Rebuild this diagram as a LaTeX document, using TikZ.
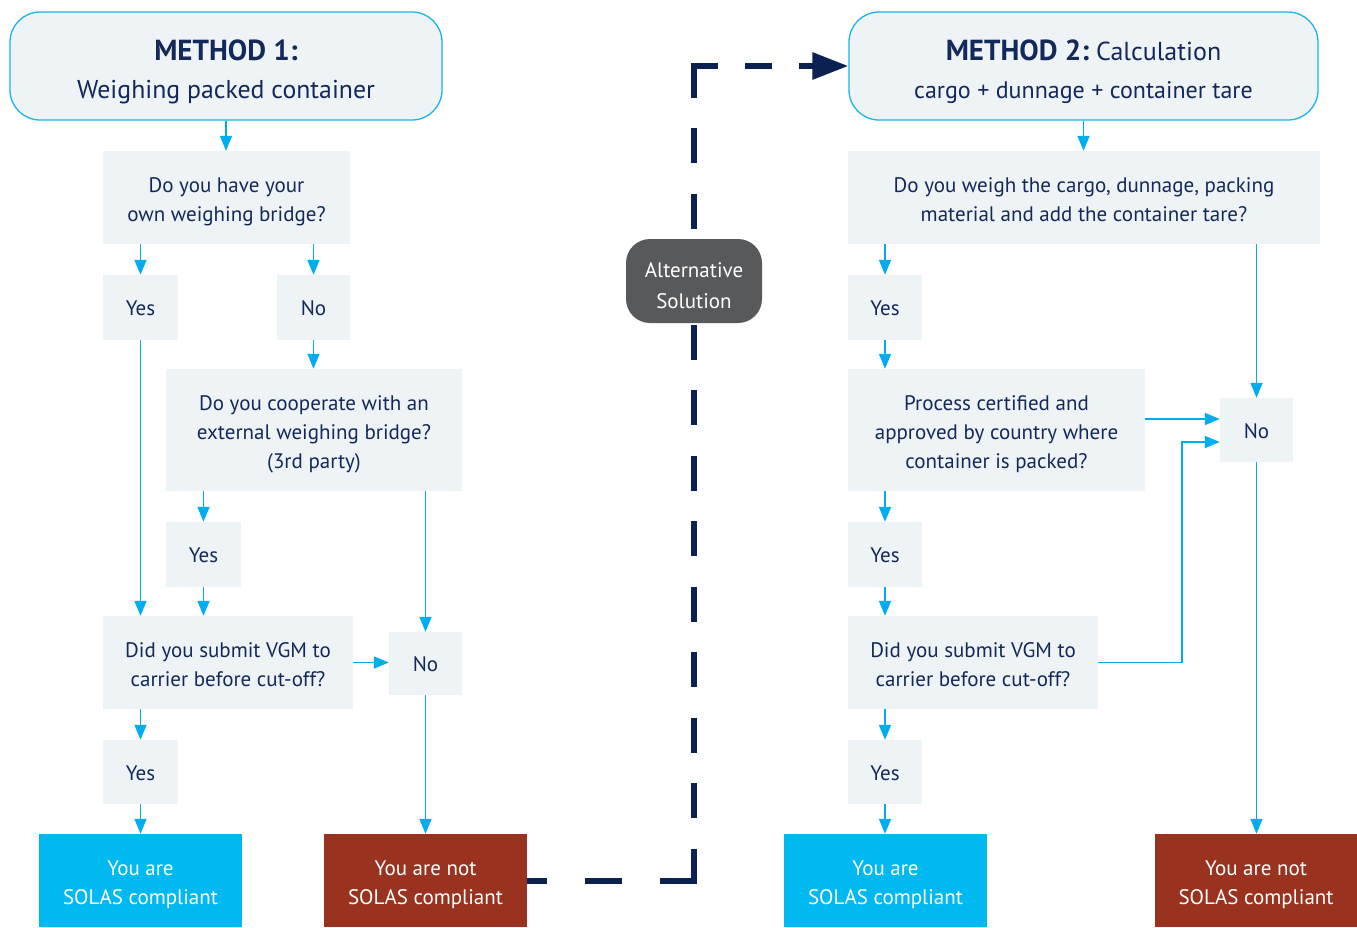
\documentclass[tikz,border=0pt]{standalone}
\usepackage{fontspec}
\setmainfont{PT Sans}
\usetikzlibrary{arrows.meta}
\definecolor{navy}{HTML}{13295A}
\definecolor{boxbg}{HTML}{EEF3F6}
\definecolor{cyanln}{HTML}{00AEEF}
\definecolor{hdrln}{HTML}{1AB4EC}
\definecolor{okblue}{HTML}{00B9F0}
\definecolor{badred}{HTML}{993320}
\definecolor{altgray}{HTML}{58595B}
\definecolor{dashnavy}{HTML}{0B2152}
\tikzset{
  qbox/.style={fill=boxbg, draw=none, inner sep=0pt},
  qtext/.style={inner sep=0pt, align=center, text=navy, font=\fontsize{21}{29}\selectfont},
  wtext/.style={inner sep=0pt, align=center, text=white, font=\fontsize{21}{29}\selectfont},
  htext/.style={inner sep=0pt, align=center, text=navy, font=\fontsize{26}{38}\selectfont},
  hdr/.style={fill=boxbg, draw=hdrln, line width=1.3pt, rounded corners=30pt, inner sep=0pt,
    minimum height=108pt},
  okbox/.style={fill=okblue, inner sep=0pt, minimum width=203pt, minimum height=93pt},
  badbox/.style={fill=badred, inner sep=0pt, minimum width=203pt, minimum height=93pt},
  altbox/.style={fill=altgray, rounded corners=24pt, inner sep=0pt,
    minimum width=136pt, minimum height=84pt},
  alttext/.style={inner sep=0pt, align=center, text=white, font=\fontsize{21}{31}\selectfont},
  arr/.style={draw=cyanln, line width=1.6pt, -{Triangle[length=15pt,width=12pt]}},
  dashseg/.style={draw=dashnavy, line width=6pt},
}
\begin{document}
\begin{tikzpicture}[x=1pt,y=-1pt]
\useasboundingbox (0,0) rectangle (1357,927);

% ---------- Method 1 ----------
\node[hdr, minimum width=432pt,
  label={[htext,yshift=-6pt]center:{{\fontsize{29}{38}\selectfont\bfseries METHOD 1:}\\{\fontsize{25.8}{38}\selectfont Weighing packed container}}}] (h1) at (226,66) {};
\node[qbox, minimum width=247pt, minimum height=93pt,
  label={[qtext,yshift=-4.5pt]center:{Do you have your\\own weighing bridge?}}] (q1) at (226.5,197.5) {};
\node[qbox, minimum width=75pt, minimum height=65pt,
  label={[qtext,yshift=-1pt]center:Yes}] (y1) at (140.5,307.5) {};
\node[qbox, minimum width=73pt, minimum height=65pt,
  label={[qtext,yshift=-1pt]center:No}] (n1) at (313.5,307.5) {};
\node[qbox, minimum width=296pt, minimum height=122pt,
  label={[qtext,yshift=-4.5pt]center:{Do you cooperate with an\\external weighing bridge?\\(3rd party)}}] (q2) at (314,430) {};
\node[qbox, minimum width=75pt, minimum height=65pt,
  label={[qtext,yshift=-1pt]center:Yes}] (y2) at (203.5,554.5) {};
\node[qbox, minimum width=250pt, minimum height=93pt,
  label={[qtext,yshift=-2pt]center:{Did you submit VGM to\\carrier before cut-off?}}] (q3) at (228,662.5) {};
\node[qbox, minimum width=73pt, minimum height=63pt,
  label={[qtext,yshift=-1pt]center:No}] (n2) at (425.5,663.5) {};
\node[qbox, minimum width=75pt, minimum height=64pt,
  label={[qtext,yshift=-1pt]center:Yes}] (y3) at (140.5,772) {};
\node[okbox, label={[wtext,yshift=-4pt]center:{You are\\SOLAS compliant}}] (ok1) at (140.5,880.5) {};
\node[badbox, label={[wtext,yshift=-4pt]center:{You are not\\SOLAS compliant}}] (bad1) at (425.5,880.5) {};

\draw[arr] (h1.south) -- (h1.south |- q1.north);
\draw[arr] (q1.south -| y1.north) -- (y1.north);
\draw[arr] (q1.south -| n1.north) -- (n1.north);
\draw[arr] (n1.south) -- (n1.south |- q2.north);
\draw[arr] (q2.south -| y2.north) -- (y2.north);
\draw[arr] (y1.south) -- (y1.south |- q3.north);
\draw[arr] (y2.south) -- (y2.south |- q3.north);
\draw[arr] (q2.south -| n2.north) -- (n2.north);
\draw[arr] (q3.east) -- (q3.east -| n2.west);
\draw[arr] (q3.south -| y3.north) -- (y3.north);
\draw[arr] (y3.south) -- (ok1.north);
\draw[arr] (n2.south) -- (bad1.north);

% ---------- Method 2 ----------
\node[hdr, minimum width=469pt,
  label={[htext,yshift=-6pt]center:{{\fontsize{29}{38}\selectfont\bfseries METHOD 2:}{\fontsize{26}{38}\selectfont\ Calculation}\\{\fontsize{24}{38}\selectfont cargo + dunnage + container tare}}}] (h2) at (1083.5,66) {};
\node[qbox, minimum width=472pt, minimum height=93pt,
  label={[qtext,yshift=-2.5pt]center:{Do you weigh the cargo, dunnage, packing\\material and add the container tare?}}] (q4) at (1084,197.5) {};
\node[qbox, minimum width=74pt, minimum height=65pt,
  label={[qtext,yshift=-1pt]center:Yes}] (y4) at (885,307.5) {};
\node[qbox, minimum width=73pt, minimum height=64pt,
  label={[qtext,yshift=-1pt]center:No}] (n4) at (1256.5,430) {};
\node[qbox, minimum width=297pt, minimum height=122pt,
  label={[qtext,yshift=-4.5pt]center:{Process certified and\\approved by country where\\container is packed?}}] (q5) at (996.5,430) {};
\node[qbox, minimum width=74pt, minimum height=65pt,
  label={[qtext,yshift=-1pt]center:Yes}] (y5) at (885,554.5) {};
\node[qbox, minimum width=250pt, minimum height=93pt,
  label={[qtext,yshift=-2pt]center:{Did you submit VGM to\\carrier before cut-off?}}] (q6) at (973,662.5) {};
\node[qbox, minimum width=74pt, minimum height=64pt,
  label={[qtext,yshift=-1pt]center:Yes}] (y6) at (885,772) {};
\node[okbox, label={[wtext,yshift=-4pt]center:{You are\\SOLAS compliant}}] (ok2) at (885.5,880.5) {};
\node[badbox, minimum width=202pt, label={[wtext,yshift=-4pt]center:{You are not\\SOLAS compliant}}] (bad2) at (1256,880.5) {};

\draw[arr] (h2.south) -- (h2.south |- q4.north);
\draw[arr] (q4.south -| y4.north) -- (y4.north);
\draw[arr] (q4.south -| n4.north) -- (n4.north);
\draw[arr] (y4.south) -- (y4.south |- q5.north);
\draw[arr] ([yshift=11pt]q5.east) -- ([yshift=11pt]q5.east -| n4.west);
\draw[arr] (q5.south -| y5.north) -- (y5.north);
\draw[arr] (y5.south) -- (y5.south |- q6.north);
\draw[arr] (q6.east) -| ++(84,0) |- ([yshift=-12pt]n4.west);
\draw[arr] (q6.south -| y6.north) -- (y6.north);
\draw[arr] (y6.south) -- (y6.south |- ok2.north);
\draw[arr] (n4.south) -- (n4.south |- bad2.north);

% ---------- Alternative solution ----------
\coordinate (dc) at (694,66);
\coordinate (dcb) at (bad1.east -| dc);
\draw[dashseg, dash pattern=on 37pt off 38pt] ([xshift=3pt]dcb) -- (bad1.east);
\draw[dashseg, dash pattern=on 35pt off 30.46pt] ([yshift=3pt]dc) -- ([yshift=-3pt]dcb);
\draw[dashseg, dash pattern=on 27pt off 27pt, -{Triangle[length=36pt,width=26pt]}] ([xshift=-3pt]dc) -- (h2.west);
\node[altbox, label={[alttext,yshift=-5pt]center:{Alternative\\Solution}}] (alt) at (694,281) {};
\end{tikzpicture}
\end{document}
